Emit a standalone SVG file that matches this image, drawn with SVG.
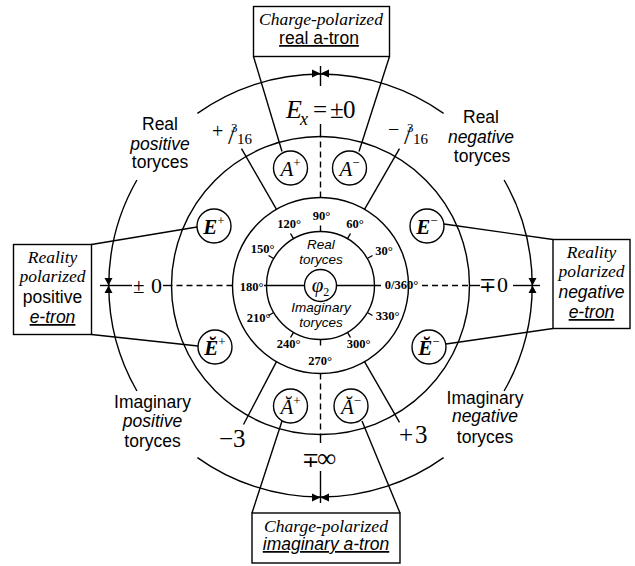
<svg xmlns="http://www.w3.org/2000/svg" width="635" height="566" viewBox="0 0 635 566">
<style>
.ln{stroke:#000;stroke-width:1.4;fill:none}
.dash{stroke:#000;stroke-width:1.4;fill:none;stroke-dasharray:6 4}
.bx{stroke:#000;stroke-width:1.4;fill:#fff}
.cir{stroke:#000;stroke-width:1.4;fill:#fff}
.ar{fill:#000;stroke:none}
.sr{font-family:"Liberation Serif","DejaVu Serif",serif;fill:#000}
.ss{font-family:"Liberation Sans","DejaVu Sans",sans-serif;fill:#000}
.it{font-style:italic}
.deg{font-family:"Liberation Serif","DejaVu Serif",serif;font-size:12.5px;font-weight:bold;fill:#000;text-anchor:middle}
.lab{font-family:"Liberation Sans","DejaVu Sans",sans-serif;font-size:17.5px;fill:#000;text-anchor:middle}
.box{font-size:17.5px;text-anchor:middle}
.u{text-decoration:underline}
.node{font-family:"Liberation Serif","DejaVu Serif",serif;font-style:italic;font-size:21px;text-anchor:middle;fill:#000}
</style>

<!-- rings -->
<g id="rings">
  <path class="ln" d="M197.4,113.4 A212,212 0 0 1 443.6,113.4"/>
  <path class="ln" d="M136.9,180 A212,212 0 0 0 136.9,391"/>
  <path class="ln" d="M504.1,180 A212,212 0 0 1 504.1,391"/>
  <path class="ln" d="M197.4,457.6 A212,212 0 0 0 443.6,457.6"/>
  <circle class="ln" cx="320.5" cy="285.5" r="149"/>
  <circle class="ln" cx="320.5" cy="285.5" r="88"/>
  <circle class="ln" cx="320.5" cy="285.5" r="54"/>
  <circle class="ln" cx="320.5" cy="285.5" r="16"/>
</g>

<!-- radial lines, ticks, axes -->
<g id="connectors">
  <line class="ln" x1="276.5" y1="209.3" x2="241.5" y2="148.7"/>
  <line class="ln" x1="364.5" y1="209.3" x2="399.5" y2="148.7"/>
  <line class="ln" x1="276.5" y1="361.7" x2="243.5" y2="424.5"/>
  <line class="ln" x1="364.5" y1="361.7" x2="399.5" y2="422.3"/>
  <g class="ln">
    <line x1="367.3" y1="258.5" x2="372.5" y2="255.5"/>
    <line x1="347.5" y1="238.7" x2="350.5" y2="233.5"/>
    <line x1="320.5" y1="231.5" x2="320.5" y2="225.5"/>
    <line x1="293.5" y1="238.7" x2="290.5" y2="233.5"/>
    <line x1="273.7" y1="258.5" x2="268.5" y2="255.5"/>
    <line x1="273.7" y1="312.5" x2="268.5" y2="315.5"/>
    <line x1="293.5" y1="332.3" x2="290.5" y2="337.5"/>
    <line x1="320.5" y1="339.5" x2="320.5" y2="345.5"/>
    <line x1="347.5" y1="332.3" x2="350.5" y2="337.5"/>
    <line x1="367.3" y1="312.5" x2="372.5" y2="315.5"/>
  </g>
  <line class="ln" x1="264" y1="285.5" x2="304.5" y2="285.5"/>
  <line class="ln" x1="336.5" y1="285.5" x2="381" y2="285.5"/>
  <!-- left axis -->
  <line class="dash" x1="232.5" y1="285.5" x2="172" y2="285.5"/>
  <line class="ln" x1="172" y1="285.5" x2="163" y2="285.5"/>
  <line class="ln" x1="100" y1="285.5" x2="132" y2="285.5"/>
  <!-- right axis -->
  <line class="dash" x1="422" y1="285.5" x2="469.5" y2="285.5"/>
  <line class="ln" x1="469.5" y1="285.5" x2="480" y2="285.5"/>
  <line class="ln" x1="513" y1="285.5" x2="540" y2="285.5"/>
  <!-- top axis -->
  <line class="dash" x1="320.5" y1="197.5" x2="320.5" y2="136.5"/>
  <line class="ln" x1="320.5" y1="136.5" x2="320.5" y2="124"/>
  <line class="ln" x1="320.5" y1="66" x2="320.5" y2="86"/>
  <!-- bottom axis -->
  <line class="dash" x1="320.5" y1="373.5" x2="320.5" y2="434.5"/>
  <line class="ln" x1="320.5" y1="434.5" x2="320.5" y2="443"/>
  <line class="ln" x1="320.5" y1="471" x2="320.5" y2="503"/>
  <!-- bowties -->
  <path class="ar" d="M312,69.5 L312,77.5 L320.5,73.5 Z M329,69.5 L329,77.5 L320.5,73.5 Z"/>
  <path class="ar" d="M312,493.5 L312,501.5 L320.5,497.5 Z M329,493.5 L329,501.5 L320.5,497.5 Z"/>
  <path class="ar" d="M104.5,278 L112.5,278 L108.5,285.5 Z M104.5,293 L112.5,293 L108.5,285.5 Z"/>
  <path class="ar" d="M528.5,278 L536.5,278 L532.5,285.5 Z M528.5,293 L536.5,293 L532.5,285.5 Z"/>
  <!-- box connectors -->
  <line class="ln" x1="253.5" y1="56.5" x2="282" y2="151.5"/>
  <line class="ln" x1="389.5" y1="56.5" x2="359" y2="151.5"/>
  <line class="ln" x1="252" y1="513" x2="282" y2="421"/>
  <line class="ln" x1="400" y1="513" x2="362" y2="421"/>
  <line class="ln" x1="91.5" y1="244.5" x2="197" y2="227"/>
  <line class="ln" x1="91.5" y1="334.5" x2="198" y2="346"/>
  <line class="ln" x1="553" y1="239.5" x2="444" y2="224"/>
  <line class="ln" x1="553" y1="328.5" x2="446" y2="344"/>
</g>

<!-- boxes -->
<g id="box-top">
  <rect class="bx" x="253.5" y="6.5" width="136" height="50"/>
  <text class="sr it box" x="321" y="25">Charge-polarized</text>
  <text class="ss box u" x="319" y="44">real a-tron</text>
</g>
<g id="box-bottom">
  <rect class="bx" x="252" y="513" width="148" height="50"/>
  <text class="sr it box" x="326" y="532">Charge-polarized</text>
  <text class="ss it box u" x="326" y="550">imaginary a-tron</text>
</g>
<g id="box-left">
  <rect class="bx" x="13.5" y="244.5" width="78" height="90"/>
  <text class="sr it box" x="52.5" y="263">Reality</text>
  <text class="sr it box" x="52.5" y="282">polarized</text>
  <text class="ss box" x="52.5" y="303">positive</text>
  <text class="ss it box u" x="52.5" y="323">e-tron</text>
</g>
<g id="box-right">
  <rect class="bx" x="553" y="239.5" width="77" height="89"/>
  <text class="sr it box" x="591.5" y="258">Reality</text>
  <text class="sr it box" x="591.5" y="277">polarized</text>
  <text class="ss it box" x="591.5" y="298">negative</text>
  <text class="ss it box u" x="591.5" y="318">e-tron</text>
</g>

<!-- small circle nodes -->
<g id="node-A-plus"><circle class="cir" cx="290.5" cy="168" r="17"/><text class="node" x="290.5" y="175.5">A<tspan font-size="13" dy="-9" font-style="normal">+</tspan></text></g>
<g id="node-A-minus"><circle class="cir" cx="349.5" cy="168" r="17"/><text class="node" x="349.5" y="175.5">A<tspan font-size="13" dy="-9" font-style="normal">−</tspan></text></g>
<g id="node-E-plus"><circle class="cir" cx="214" cy="226" r="17"/><text class="node" font-weight="bold" x="214" y="233.5">E<tspan font-size="13" dy="-9" font-style="normal" font-weight="normal">+</tspan></text></g>
<g id="node-E-minus"><circle class="cir" cx="427" cy="226" r="17"/><text class="node" font-weight="bold" x="427" y="233.5">E<tspan font-size="13" dy="-9" font-style="normal" font-weight="normal">−</tspan></text></g>
<g id="node-Eb-plus"><circle class="cir" cx="215" cy="347" r="17"/><text class="node" font-weight="bold" x="215" y="355">Ĕ<tspan font-size="13" dy="-9" font-style="normal" font-weight="normal">+</tspan></text></g>
<g id="node-Eb-minus"><circle class="cir" cx="429" cy="347" r="17"/><text class="node" font-weight="bold" x="429" y="355">Ĕ<tspan font-size="13" dy="-9" font-style="normal" font-weight="normal">−</tspan></text></g>
<g id="node-Ab-plus"><circle class="cir" cx="290.5" cy="406" r="17"/><text class="node" x="290.5" y="414">Ă<tspan font-size="13" dy="-9" font-style="normal">+</tspan></text></g>
<g id="node-Ab-minus"><circle class="cir" cx="351" cy="406" r="17"/><text class="node" x="351" y="414">Ă<tspan font-size="13" dy="-9" font-style="normal">−</tspan></text></g>
<g id="node-phi"><text class="node" font-size="21" x="320.5" y="292">φ<tspan font-size="12" dy="4" font-style="normal">2</tspan></text></g>

<!-- degree labels -->
<g id="degrees">
  <text class="deg" x="321.5" y="220">90°</text>
  <text class="deg" x="289" y="228">120°</text>
  <text class="deg" x="355" y="228">60°</text>
  <text class="deg" x="262.5" y="253">150°</text>
  <text class="deg" x="384" y="255">30°</text>
  <text class="deg" x="251.5" y="291">180°</text>
  <text class="deg" x="401.5" y="289">0/360°</text>
  <text class="deg" x="258.5" y="322">210°</text>
  <text class="deg" x="387.5" y="320">330°</text>
  <text class="deg" x="288.5" y="348">240°</text>
  <text class="deg" x="358.5" y="348">300°</text>
  <text class="deg" x="320" y="365">270°</text>
</g>

<!-- inner labels -->
<g id="inner-labels" class="ss it" font-size="13.5" text-anchor="middle">
  <text x="321" y="249">Real</text>
  <text x="321" y="263.5">toryces</text>
  <text x="321" y="312">Imaginary</text>
  <text x="321" y="327">toryces</text>
</g>

<!-- quadrant labels -->
<g id="label-real-positive">
  <text class="lab" x="160" y="130">Real</text>
  <text class="lab it" x="160" y="150">positive</text>
  <text class="lab" x="160" y="168">toryces</text>
</g>
<g id="label-real-negative">
  <text class="lab" x="481" y="123">Real</text>
  <text class="lab it" x="481" y="143">negative</text>
  <text class="lab" x="482" y="162">toryces</text>
</g>
<g id="label-imag-positive">
  <text class="lab" x="152.5" y="408">Imaginary</text>
  <text class="lab it" x="152.5" y="427">positive</text>
  <text class="lab" x="152.5" y="447">toryces</text>
</g>
<g id="label-imag-negative">
  <text class="lab" x="485" y="404">Imaginary</text>
  <text class="lab it" x="485" y="422">negative</text>
  <text class="lab" x="485" y="443">toryces</text>
</g>

<!-- values -->
<g id="values" class="sr">
  <text x="286" y="118" font-size="26"><tspan font-style="italic">E</tspan><tspan x="300" y="125" font-size="18" font-style="italic">x</tspan><tspan x="313" y="118" font-size="25">=</tspan><tspan x="330" font-size="25">±</tspan><tspan x="343" font-size="25">0</tspan></text>
  <text x="133" y="293" font-size="21">±<tspan x="151" font-size="22">0</tspan></text>
  <text x="479" y="292" font-size="21">∓<tspan x="497" font-size="22">0</tspan></text>
  <text x="302" y="467" font-size="21">∓<tspan x="317" font-size="27">∞</tspan></text>
  <text x="219" y="447" font-size="25">−3</text>
  <text x="399" y="443" font-size="25">+<tspan x="415">3</tspan></text>
  <text x="212" y="138" font-size="20">+<tspan x="231" y="132" font-size="13">3</tspan><tspan x="228" y="144" font-size="26">/</tspan><tspan x="237" y="144" font-size="15">16</tspan></text>
  <text x="388" y="136" font-size="20">−<tspan x="407" y="132" font-size="13">3</tspan><tspan x="404" y="144" font-size="26">/</tspan><tspan x="413" y="144" font-size="15">16</tspan></text>
</g>
</svg>
